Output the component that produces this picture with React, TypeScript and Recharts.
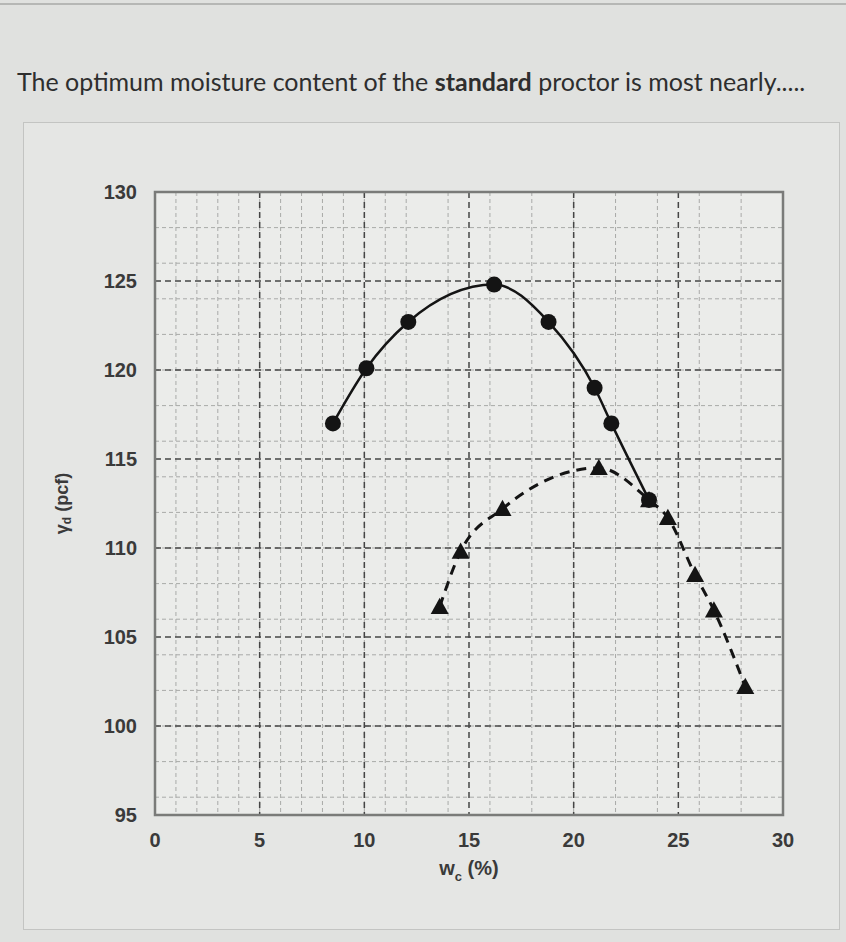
import React from 'react';
import { LineChart, Line, XAxis, YAxis, CartesianGrid, ReferenceArea, Label } from 'recharts';

// water content (%) vs dry unit weight (pcf)
const modifiedW = [8.5, 10.1, 12.1, 16.2, 18.8, 21.0, 21.8, 23.6];
const modifiedGamma = [117.0, 120.1, 122.7, 124.8, 122.7, 119.0, 117.0, 112.7];

const standardW = [13.6, 14.6, 16.6, 21.2, 23.6, 24.5, 25.8, 26.7, 28.2];
const standardGamma = [106.7, 109.8, 112.2, 114.5, 112.7, 111.7, 108.5, 106.5, 102.2];

const xTicks = [0, 5, 10, 15, 20, 25, 30];
const yTicks = [95, 100, 105, 110, 115, 120, 125, 130];
const xMinor = Array.from({ length: 31 }, (_, i) => i);
const yMinor = Array.from({ length: 36 }, (_, i) => 95 + i);

const modifiedData = modifiedW.map((x, i) => ({ x, y: modifiedGamma[i] }));
const standardData = standardW.map((x, i) => ({ x, y: standardGamma[i] }));

const INK = '#141414';
const tickStyle = { fill: '#3a3a3a', fontSize: 20, fontWeight: 700, fontFamily: 'Liberation Sans, Arial, sans-serif' };

const CircleDot = (props: any) => {
  const { cx, cy, index } = props;
  if (cx == null || cy == null) return null;
  return <circle key={`c-${index}`} cx={cx} cy={cy} r={8} fill={INK} />;
};

const TriangleDot = (props: any) => {
  const { cx, cy, index } = props;
  if (cx == null || cy == null) return null;
  const s = 9;
  return (
    <path
      key={`t-${index}`}
      d={`M${cx},${cy - s} L${cx + s},${cy + s * 0.8} L${cx - s},${cy + s * 0.8} Z`}
      fill={INK}
    />
  );
};

const XTitle = (props: any) => {
  const { viewBox } = props;
  const cx = viewBox.x + viewBox.width / 2;
  const y = viewBox.y + viewBox.height + 20;
  return (
    <text x={cx} y={y} textAnchor="middle" fill="#3a3a3a" fontSize={20} fontWeight={700} fontFamily="Liberation Sans, Arial, sans-serif">
      <tspan>w</tspan>
      <tspan dy={6} fontSize={13}>c</tspan>
      <tspan dy={-6}> (%)</tspan>
    </text>
  );
};

const YTitle = (props: any) => {
  const { viewBox } = props;
  const cx = viewBox.x - 13;
  const cy = viewBox.y + viewBox.height / 2;
  return (
    <text
      x={cx}
      y={cy}
      textAnchor="middle"
      dominantBaseline="central"
      transform={`rotate(-90, ${cx}, ${cy})`}
      fill="#3a3a3a"
      fontSize={18}
      fontWeight={700}
      fontFamily="Liberation Sans, Arial, sans-serif"
    >
      <tspan>γ</tspan>
      <tspan dy={5} fontSize={12}>d</tspan>
      <tspan dy={-5}> (pcf)</tspan>
    </text>
  );
};

export default function App() {
  return (
    <div
      style={{
        position: 'absolute',
        left: 0,
        top: 0,
        width: 846,
        height: 942,
        background: '#e0e1df',
        overflow: 'hidden',
        fontFamily: 'Lato, sans-serif',
      }}
    >
      <div style={{ position: 'absolute', left: 0, top: 3, width: 846, height: 0, borderTop: '2px solid #b6b7b5' }} />
      <div style={{ position: 'absolute', left: 17, top: 66, fontSize: 25, color: '#2e2e2e', whiteSpace: 'nowrap' }}>
        The optimum moisture content of the <b>standard</b> proctor is most nearly.....
      </div>
      <div
        style={{
          position: 'absolute',
          left: 23,
          top: 122,
          width: 815,
          height: 806,
          border: '1.5px solid #c3c4c2',
          background: '#e5e6e4',
        }}
      />
      <div style={{ position: 'absolute', left: 0, top: 150 }}>
        <LineChart width={846} height={760} margin={{ top: 42, right: 63, bottom: 55, left: 75 }}>
          <CartesianGrid
            verticalValues={xMinor}
            horizontalValues={yMinor}
            stroke="#a9aaa8"
            strokeDasharray="4 3"
            fill="#ebecea"
          />
          <CartesianGrid
            verticalValues={xTicks}
            horizontalValues={yTicks}
            stroke="#454545"
            strokeWidth={1.5}
            strokeDasharray="6 4"
          />
          <XAxis
            type="number"
            dataKey="x"
            domain={[0, 30]}
            ticks={xTicks}
            allowDataOverflow
            height={40}
            axisLine={false}
            tickLine={false}
            tickSize={6}
            tickMargin={12}
            tick={tickStyle}
          >
            <Label content={<XTitle />} />
          </XAxis>
          <YAxis
            type="number"
            dataKey="y"
            domain={[95, 130]}
            ticks={yTicks}
            allowDataOverflow
            width={80}
            axisLine={false}
            tickLine={false}
            tickSize={6}
            tickMargin={12}
            tick={tickStyle}
          >
            <Label content={<YTitle />} />
          </YAxis>
          <ReferenceArea x1={0} x2={30} y1={95} y2={130} fill="none" stroke="#7a7b79" strokeWidth={2.5} />
          <Line
            data={standardData}
            dataKey="y"
            type="monotone"
            stroke={INK}
            strokeWidth={3}
            strokeDasharray="10 7"
            dot={TriangleDot}
            activeDot={false}
            isAnimationActive={false}
          />
          <Line
            data={modifiedData}
            dataKey="y"
            type="monotone"
            stroke={INK}
            strokeWidth={2.5}
            dot={CircleDot}
            activeDot={false}
            isAnimationActive={false}
          />
        </LineChart>
      </div>
    </div>
  );
}
